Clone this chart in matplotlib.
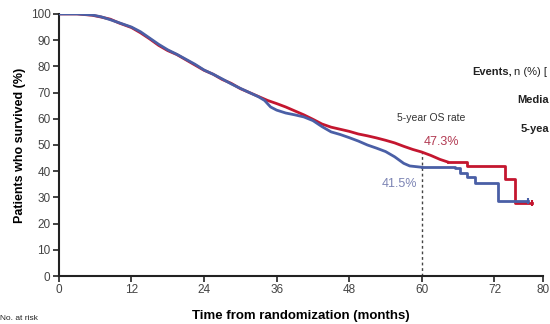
import matplotlib
matplotlib.use('Agg')
import matplotlib.pyplot as plt

plt.rcParams['font.family'] = ['Liberation Sans', 'DejaVu Sans']

# Kaplan-Meier curves (months, % surviving)
red_t = [0, 3, 5.5, 7, 8.5, 10, 12, 13.5, 15, 16.5, 18, 19.5, 21, 22.5, 24, 25.5, 27, 28.5,
         30, 31.5, 33, 34.5, 36, 37.5, 39, 40.5, 42, 43.5, 45, 46.5, 48, 49.5, 51, 52.5,
         54, 55.5, 57, 58.5, 60, 61.5, 63, 64.3, 67.4, 73.7, 75.4, 78.2]
red_s = [100, 100, 99.5, 98.8, 98, 96.5, 94.8, 92.8, 90.5, 88, 86, 84.5, 82.5, 80.5, 78.5, 77, 75, 73.5,
         71.5, 70, 68.5, 67, 65.8, 64.5, 63, 61.5, 59.8, 58, 56.8, 56, 55.2, 54.2, 53.5, 52.7,
         51.8, 50.8, 49.5, 48.3, 47.3, 46, 44.5, 43.5, 41.9, 37.2, 27.7, 27.7]

blue_t = [0, 3, 5.5, 7, 8.5, 10, 12, 13.5, 15, 16.5, 18, 19.5, 21, 22.5, 24, 25.5, 27, 28.5,
          30, 31.5, 33, 34, 35, 36, 37.5, 39, 40.5, 42, 43.5, 45, 46.5, 48, 49.5, 51, 52.5,
          54, 55.5, 57, 58, 60, 65.5, 66.3, 67.4, 68.8, 72.6, 77.5]
blue_s = [100, 100, 99.6, 98.9, 97.8, 96.6, 95, 93.2, 90.8, 88.4, 86.3, 84.6, 82.7, 80.8, 78.6, 77, 75.2, 73.3,
          71.6, 70, 68.4, 67, 64.5, 63.3, 62.2, 61.5, 60.7, 59.3, 57, 55, 54, 52.8, 51.5, 50, 48.8,
          47.5, 45.5, 43, 42, 41.5, 41.2, 39.3, 37.8, 35.5, 28.6, 28.6]

# where the dense part ends and the visible stairs of the tail begin
red_tail = red_t.index(64.3)
blue_tail = blue_t.index(60)

x_ticks = [0, 12, 24, 36, 48, 60, 72, 80]
y_ticks = list(range(0, 101, 10))
os5_red = 47.3
os5_blue = 41.5

RED = '#c4162f'
BLUE = '#4a5fa6'

fig = plt.figure(figsize=(5.5, 3.24), dpi=100)
ax = fig.add_axes([0.107, 0.148, 0.88, 0.809])

for t, s, cut, col, z in [(blue_t, blue_s, blue_tail, BLUE, 3), (red_t, red_s, red_tail, RED, 2)]:
    ax.plot(t[:cut + 1], s[:cut + 1], color=col, lw=2.0, zorder=z, solid_joinstyle='round')
    ax.plot(t[cut:], s[cut:], drawstyle='steps-post', color=col, lw=2.0, zorder=z)
    ax.plot([t[-1]], [s[-1]], marker='|', color=col, ms=4, mew=1.5, zorder=z)

ax.plot([60, 60], [0, os5_red], ls=(0, (2, 2)), color='#444444', lw=1.0, zorder=1)

ax.text(61.5, 60.3, '5-year OS rate', fontsize=7.5, color='#333333', ha='center', va='center')
ax.text(63.3, 51.1, '%.1f%%' % os5_red, fontsize=9, color='#b23a52', ha='center', va='center')
ax.text(56.3, 35.1, '%.1f%%' % os5_blue, fontsize=9, color='#7c84b4', ha='center', va='center')

ax.set_xlim(0, 80)
ax.set_ylim(0, 100)
ax.set_xticks(x_ticks)
ax.set_yticks(y_ticks)
for side in ['top', 'right']:
    ax.spines[side].set_visible(False)
for side in ['left', 'bottom']:
    ax.spines[side].set_linewidth(1.5)
    ax.spines[side].set_color('#222222')
ax.tick_params(direction='out', length=4, width=1.2, color='#222222',
               labelsize=8.5, labelcolor='#444444', pad=2)
ax.set_xlabel('Time from randomization (months)', fontsize=9.5, fontweight='bold', labelpad=10)
ax.set_ylabel('Patients who survived (%)', fontsize=9, fontweight='bold', labelpad=3)

# legend block on the right (the reference cuts it at the picture edge)
ev = fig.text(0.858, 0.778, 'Events,', fontsize=8, fontweight='bold', va='center', color='#222222')
fig.canvas.draw()
bb = ev.get_window_extent(fig.canvas.get_renderer())
fig.text(bb.x1 / fig.bbox.width + 0.005, 0.778, 'n (%) [', fontsize=8, va='center', color='#222222')
fig.text(0.94, 0.691, 'Media', fontsize=8, fontweight='bold', va='center', color='#222222')
fig.text(0.946, 0.603, '5-yea', fontsize=8, fontweight='bold', va='center', color='#222222')
fig.text(0.0, 0.012, 'No. at risk', fontsize=6, color='#222222')

fig.savefig('out.png', dpi=100)
